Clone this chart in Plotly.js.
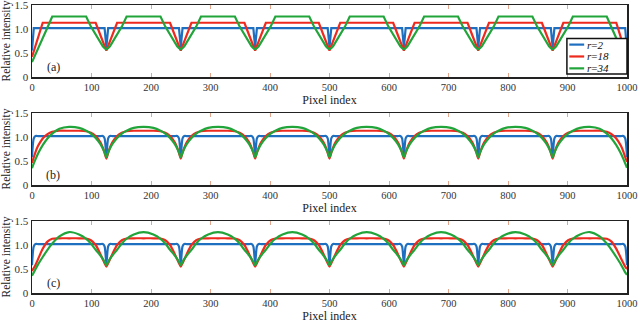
<!DOCTYPE html>
<html>
<head>
<meta charset="utf-8">
<script src="https://cdn.plot.ly/plotly-3.0.1.min.js"></script>
<style>
  html, body { margin: 0; padding: 0; background: #fff; }
  #chart { width: 640px; height: 324px; }
</style>
</head>
<body>
<div id="chart"></div>
<script>
// pixel positions where the curves were read
const pixelIndex = [
  0, 3, 6, 10, 18, 26, 34, 46, 62.5, 79, 91, 99, 107, 115, 119, 122,
  125, 128, 131, 135, 143, 151, 159, 171, 187.5, 204, 216, 224, 232, 240, 244, 247,
  250, 253, 256, 260, 268, 276, 284, 296, 312.5, 329, 341, 349, 357, 365, 369, 372,
  375, 378, 381, 385, 393, 401, 409, 421, 437.5, 454, 466, 474, 482, 490, 494, 497,
  500, 503, 506, 510, 518, 526, 534, 546, 562.5, 579, 591, 599, 607, 615, 619, 622,
  625, 628, 631, 635, 643, 651, 659, 671, 687.5, 704, 716, 724, 732, 740, 744, 747,
  750, 753, 756, 760, 768, 776, 784, 796, 812.5, 829, 841, 849, 857, 865, 869, 872,
  875, 878, 881, 885, 893, 901, 909, 921, 937.5, 954, 966, 974, 982, 990, 994, 997,
  1000
];

// panel (a)
const aBlue = [
  0.55, 1.02, 1.02, 1.02, 1.02, 1.02, 1.02, 1.02, 1.02, 1.02, 1.02, 1.02, 1.02, 1.02, 1.02, 1.02,
  0.62, 1.02, 1.02, 1.02, 1.02, 1.02, 1.02, 1.02, 1.02, 1.02, 1.02, 1.02, 1.02, 1.02, 1.02, 1.02,
  0.62, 1.02, 1.02, 1.02, 1.02, 1.02, 1.02, 1.02, 1.02, 1.02, 1.02, 1.02, 1.02, 1.02, 1.02, 1.02,
  0.62, 1.02, 1.02, 1.02, 1.02, 1.02, 1.02, 1.02, 1.02, 1.02, 1.02, 1.02, 1.02, 1.02, 1.02, 1.02,
  0.62, 1.02, 1.02, 1.02, 1.02, 1.02, 1.02, 1.02, 1.02, 1.02, 1.02, 1.02, 1.02, 1.02, 1.02, 1.02,
  0.62, 1.02, 1.02, 1.02, 1.02, 1.02, 1.02, 1.02, 1.02, 1.02, 1.02, 1.02, 1.02, 1.02, 1.02, 1.02,
  0.62, 1.02, 1.02, 1.02, 1.02, 1.02, 1.02, 1.02, 1.02, 1.02, 1.02, 1.02, 1.02, 1.02, 1.02, 1.02,
  0.62, 1.02, 1.02, 1.02, 1.02, 1.02, 1.02, 1.02, 1.02, 1.02, 1.02, 1.02, 1.02, 1.02, 1.02, 1.02,
  0.55
];
const aRed = [
  0.42, 0.54, 0.66, 0.81, 1.13, 1.13, 1.13, 1.13, 1.13, 1.13, 1.13, 1.13, 1.13, 0.87, 0.74, 0.65,
  0.55, 0.65, 0.74, 0.87, 1.13, 1.13, 1.13, 1.13, 1.13, 1.13, 1.13, 1.13, 1.13, 0.87, 0.74, 0.65,
  0.55, 0.65, 0.74, 0.87, 1.13, 1.13, 1.13, 1.13, 1.13, 1.13, 1.13, 1.13, 1.13, 0.87, 0.74, 0.65,
  0.55, 0.65, 0.74, 0.87, 1.13, 1.13, 1.13, 1.13, 1.13, 1.13, 1.13, 1.13, 1.13, 0.87, 0.74, 0.65,
  0.55, 0.65, 0.74, 0.87, 1.13, 1.13, 1.13, 1.13, 1.13, 1.13, 1.13, 1.13, 1.13, 0.87, 0.74, 0.65,
  0.55, 0.65, 0.74, 0.87, 1.13, 1.13, 1.13, 1.13, 1.13, 1.13, 1.13, 1.13, 1.13, 0.87, 0.74, 0.65,
  0.55, 0.65, 0.74, 0.87, 1.13, 1.13, 1.13, 1.13, 1.13, 1.13, 1.13, 1.13, 1.13, 0.87, 0.74, 0.65,
  0.55, 0.65, 0.74, 0.87, 1.13, 1.13, 1.13, 1.13, 1.13, 1.13, 1.13, 1.13, 1.13, 0.81, 0.66, 0.54,
  0.44
];
const aGreen = [
  0.31, 0.39, 0.47, 0.58, 0.8, 1.03, 1.26, 1.26, 1.26, 1.26, 1.26, 1.05, 0.88, 0.72, 0.64, 0.6,
  0.58, 0.6, 0.64, 0.72, 0.88, 1.05, 1.26, 1.26, 1.26, 1.26, 1.26, 1.05, 0.88, 0.72, 0.64, 0.6,
  0.58, 0.6, 0.64, 0.72, 0.88, 1.05, 1.26, 1.26, 1.26, 1.26, 1.26, 1.05, 0.88, 0.72, 0.64, 0.6,
  0.58, 0.6, 0.64, 0.72, 0.88, 1.05, 1.26, 1.26, 1.26, 1.26, 1.26, 1.05, 0.88, 0.72, 0.64, 0.6,
  0.58, 0.6, 0.64, 0.72, 0.88, 1.05, 1.26, 1.26, 1.26, 1.26, 1.26, 1.05, 0.88, 0.72, 0.64, 0.6,
  0.58, 0.6, 0.64, 0.72, 0.88, 1.05, 1.26, 1.26, 1.26, 1.26, 1.26, 1.05, 0.88, 0.72, 0.64, 0.6,
  0.58, 0.6, 0.64, 0.72, 0.88, 1.05, 1.26, 1.26, 1.26, 1.26, 1.26, 1.05, 0.88, 0.72, 0.64, 0.6,
  0.58, 0.6, 0.64, 0.72, 0.88, 1.05, 1.26, 1.26, 1.26, 1.26, 1.26, 1.03, 0.8, 0.58, 0.47, 0.39,
  0.33
];

// panel (b)
const bBlue = [
  0.58, 0.97, 1.02, 1.02, 1.02, 1.02, 1.02, 1.02, 1.02, 1.02, 1.02, 1.02, 1.02, 1.02, 1.02, 0.97,
  0.62, 0.97, 1.02, 1.02, 1.02, 1.02, 1.02, 1.02, 1.02, 1.02, 1.02, 1.02, 1.02, 1.02, 1.02, 0.97,
  0.62, 0.97, 1.02, 1.02, 1.02, 1.02, 1.02, 1.02, 1.02, 1.02, 1.02, 1.02, 1.02, 1.02, 1.02, 0.97,
  0.62, 0.97, 1.02, 1.02, 1.02, 1.02, 1.02, 1.02, 1.02, 1.02, 1.02, 1.02, 1.02, 1.02, 1.02, 0.97,
  0.62, 0.97, 1.02, 1.02, 1.02, 1.02, 1.02, 1.02, 1.02, 1.02, 1.02, 1.02, 1.02, 1.02, 1.02, 0.97,
  0.62, 0.97, 1.02, 1.02, 1.02, 1.02, 1.02, 1.02, 1.02, 1.02, 1.02, 1.02, 1.02, 1.02, 1.02, 0.97,
  0.62, 0.97, 1.02, 1.02, 1.02, 1.02, 1.02, 1.02, 1.02, 1.02, 1.02, 1.02, 1.02, 1.02, 1.02, 0.97,
  0.62, 0.97, 1.02, 1.02, 1.02, 1.02, 1.02, 1.02, 1.02, 1.02, 1.02, 1.02, 1.02, 1.02, 1.02, 0.97,
  0.58
];
const bRed = [
  0.46, 0.58, 0.69, 0.81, 0.97, 1.06, 1.11, 1.13, 1.13, 1.13, 1.12, 1.09, 1.02, 0.89, 0.78, 0.67,
  0.55, 0.67, 0.78, 0.89, 1.02, 1.09, 1.12, 1.13, 1.13, 1.13, 1.12, 1.09, 1.02, 0.89, 0.78, 0.67,
  0.55, 0.67, 0.78, 0.89, 1.02, 1.09, 1.12, 1.13, 1.13, 1.13, 1.12, 1.09, 1.02, 0.89, 0.78, 0.67,
  0.55, 0.67, 0.78, 0.89, 1.02, 1.09, 1.12, 1.13, 1.13, 1.13, 1.12, 1.09, 1.02, 0.89, 0.78, 0.67,
  0.55, 0.67, 0.78, 0.89, 1.02, 1.09, 1.12, 1.13, 1.13, 1.13, 1.12, 1.09, 1.02, 0.89, 0.78, 0.67,
  0.55, 0.67, 0.78, 0.89, 1.02, 1.09, 1.12, 1.13, 1.13, 1.13, 1.12, 1.09, 1.02, 0.89, 0.78, 0.67,
  0.55, 0.67, 0.78, 0.89, 1.02, 1.09, 1.12, 1.13, 1.13, 1.13, 1.12, 1.09, 1.02, 0.89, 0.78, 0.67,
  0.55, 0.67, 0.78, 0.89, 1.02, 1.09, 1.12, 1.13, 1.13, 1.13, 1.11, 1.06, 0.97, 0.81, 0.69, 0.58,
  0.48
];
const bGreen = [
  0.35, 0.45, 0.54, 0.65, 0.83, 0.97, 1.07, 1.17, 1.21, 1.19, 1.13, 1.07, 0.98, 0.85, 0.76, 0.68,
  0.58, 0.68, 0.76, 0.85, 0.98, 1.07, 1.13, 1.19, 1.21, 1.19, 1.13, 1.07, 0.98, 0.85, 0.76, 0.68,
  0.58, 0.68, 0.76, 0.85, 0.98, 1.07, 1.13, 1.19, 1.21, 1.19, 1.13, 1.07, 0.98, 0.85, 0.76, 0.68,
  0.58, 0.68, 0.76, 0.85, 0.98, 1.07, 1.13, 1.19, 1.21, 1.19, 1.13, 1.07, 0.98, 0.85, 0.76, 0.68,
  0.58, 0.68, 0.76, 0.85, 0.98, 1.07, 1.13, 1.19, 1.21, 1.19, 1.13, 1.07, 0.98, 0.85, 0.76, 0.68,
  0.58, 0.68, 0.76, 0.85, 0.98, 1.07, 1.13, 1.19, 1.21, 1.19, 1.13, 1.07, 0.98, 0.85, 0.76, 0.68,
  0.58, 0.68, 0.76, 0.85, 0.98, 1.07, 1.13, 1.19, 1.21, 1.19, 1.13, 1.07, 0.98, 0.85, 0.76, 0.68,
  0.58, 0.68, 0.76, 0.85, 0.98, 1.07, 1.13, 1.19, 1.21, 1.17, 1.07, 0.97, 0.83, 0.65, 0.54, 0.45,
  0.36
];

// panel (c)
const cBlue = bBlue.slice();
const cRed = [
  0.46, 0.52, 0.59, 0.7, 0.92, 1.07, 1.13, 1.14, 1.14, 1.14, 1.135, 1.1, 1.0, 0.81, 0.7, 0.62,
  0.55, 0.62, 0.7, 0.81, 1.0, 1.1, 1.135, 1.14, 1.14, 1.14, 1.135, 1.1, 1.0, 0.81, 0.7, 0.62,
  0.55, 0.62, 0.7, 0.81, 1.0, 1.1, 1.135, 1.14, 1.14, 1.14, 1.135, 1.1, 1.0, 0.81, 0.7, 0.62,
  0.55, 0.62, 0.7, 0.81, 1.0, 1.1, 1.135, 1.14, 1.14, 1.14, 1.135, 1.1, 1.0, 0.81, 0.7, 0.62,
  0.55, 0.62, 0.7, 0.81, 1.0, 1.1, 1.135, 1.14, 1.14, 1.14, 1.135, 1.1, 1.0, 0.81, 0.7, 0.62,
  0.55, 0.62, 0.7, 0.81, 1.0, 1.1, 1.135, 1.14, 1.14, 1.14, 1.135, 1.1, 1.0, 0.81, 0.7, 0.62,
  0.55, 0.62, 0.7, 0.81, 1.0, 1.1, 1.135, 1.14, 1.14, 1.14, 1.135, 1.1, 1.0, 0.81, 0.7, 0.62,
  0.55, 0.62, 0.7, 0.81, 1.0, 1.1, 1.135, 1.14, 1.14, 1.14, 1.13, 1.07, 0.92, 0.72, 0.62, 0.55,
  0.5
];
const cGreen = [
  0.36, 0.43, 0.5, 0.59, 0.75, 0.9, 1.03, 1.18, 1.27, 1.22, 1.13, 1.03, 0.9, 0.78, 0.71, 0.65,
  0.58, 0.65, 0.71, 0.78, 0.9, 1.03, 1.13, 1.22, 1.27, 1.22, 1.13, 1.03, 0.9, 0.78, 0.71, 0.65,
  0.58, 0.65, 0.71, 0.78, 0.9, 1.03, 1.13, 1.22, 1.27, 1.22, 1.13, 1.03, 0.9, 0.78, 0.71, 0.65,
  0.58, 0.65, 0.71, 0.78, 0.9, 1.03, 1.13, 1.22, 1.27, 1.22, 1.13, 1.03, 0.9, 0.78, 0.71, 0.65,
  0.58, 0.65, 0.71, 0.78, 0.9, 1.03, 1.13, 1.22, 1.27, 1.22, 1.13, 1.03, 0.9, 0.78, 0.71, 0.65,
  0.58, 0.65, 0.71, 0.78, 0.9, 1.03, 1.13, 1.22, 1.27, 1.22, 1.13, 1.03, 0.9, 0.78, 0.71, 0.65,
  0.58, 0.65, 0.71, 0.78, 0.9, 1.03, 1.13, 1.22, 1.27, 1.22, 1.13, 1.03, 0.9, 0.78, 0.71, 0.65,
  0.58, 0.65, 0.71, 0.78, 0.9, 1.03, 1.13, 1.22, 1.27, 1.18, 1.03, 0.9, 0.75, 0.59, 0.5, 0.43,
  0.38
];

const seriesNames = ['<i>r</i>=<i>2</i>', '<i>r</i>=<i>18</i>', '<i>r</i>=<i>34</i>'];
const panelLabels = ['(a)', '(b)', '(c)'];
const xTickVals = [0, 100, 200, 300, 400, 500, 600, 700, 800, 900, 1000];
const yTickVals = [0, 0.5, 1, 1.5];
const yTickText = ['0', '0.5', '1.0', '1.5'];

const colors = ['#1f6fc0', '#ee2a1f', '#21a53b'];
const serif = 'Liberation Serif';

// top to bottom
const panels = [
  { series: [aBlue, aRed, aGreen], shape: 'linear', domain: [0.75, 1] },
  { series: [bBlue, bRed, bGreen], shape: 'spline', domain: [0.375, 0.625] },
  { series: [cBlue, cRed, cGreen], shape: 'spline', domain: [0, 0.25] },
];

const traces = [];
const layout = {
  width: 640,
  height: 324,
  margin: { l: 32, r: 13, t: 5, b: 31 },
  paper_bgcolor: '#fff',
  plot_bgcolor: '#fff',
  font: { family: serif, color: '#222' },
  showlegend: false,
  annotations: [],
  shapes: [],
};

panels.forEach((p, i) => {
  const n = i === 0 ? '' : String(i + 1);
  p.series.forEach((ys, j) => {
    traces.push({
      x: pixelIndex,
      y: ys,
      xaxis: 'x' + n,
      yaxis: 'y' + n,
      mode: 'lines',
      name: seriesNames[j],
      line: { color: colors[j], width: 2.2, shape: p.shape, smoothing: 0.7 },
    });
  });

  layout['xaxis' + n] = {
    domain: [0, 1],
    anchor: 'y' + n,
    range: [0, 1000],
    tickvals: xTickVals,
    ticks: 'inside',
    ticklen: 4,
    tickcolor: '#e3a58c',
    showline: true,
    linecolor: '#222',
    linewidth: 1.5,
    mirror: 'ticks',
    showgrid: false,
    zeroline: false,
    ticklabeloverflow: 'allow',
    tickfont: { family: serif, size: 10.5, color: '#333' },
    title: { text: 'Pixel index', font: { family: serif, size: 12, color: '#222' }, standoff: 0 },
  };
  layout['yaxis' + n] = {
    domain: p.domain,
    anchor: 'x' + n,
    range: [0, 1.5],
    tickmode: 'array',
    tickvals: yTickVals,
    ticktext: yTickText,
    ticks: '',
    showline: true,
    linecolor: '#222',
    linewidth: 1.5,
    mirror: true,
    showgrid: false,
    zeroline: false,
    ticklabeloverflow: 'allow',
    tickfont: { family: serif, size: 11, color: '#333' },
    title: { text: 'Relative intensity', font: { family: serif, size: 11.5, color: '#222' }, standoff: 3 },
  };

  layout.annotations.push({
    xref: 'x' + n, yref: 'y' + n,
    x: 36, y: 0.2,
    text: panelLabels[i],
    showarrow: false,
    font: { family: serif, size: 12, color: '#222' },
  });
});

// boxed legend in the lower right corner of panel (a)
layout.shapes.push({
  type: 'rect', xref: 'x domain', yref: 'y domain',
  x0: 0.899, x1: 1, y0: 0.04, y1: 0.535,
  line: { color: '#111', width: 1.5 }, fillcolor: '#fff', layer: 'above',
});
const legendRows = [0.45, 0.285, 0.12];
seriesNames.forEach((name, j) => {
  layout.shapes.push({
    type: 'line', xref: 'x domain', yref: 'y domain',
    x0: 0.903, x1: 0.928, y0: legendRows[j], y1: legendRows[j],
    line: { color: colors[j], width: 2.2 }, layer: 'above',
  });
  layout.annotations.push({
    xref: 'x domain', yref: 'y domain',
    x: 0.93, y: legendRows[j], xanchor: 'left', yanchor: 'middle',
    text: name, showarrow: false,
    font: { family: serif, size: 11, color: '#111' },
  });
});

Plotly.newPlot('chart', traces, layout, { staticPlot: true });
</script>
</body>
</html>
